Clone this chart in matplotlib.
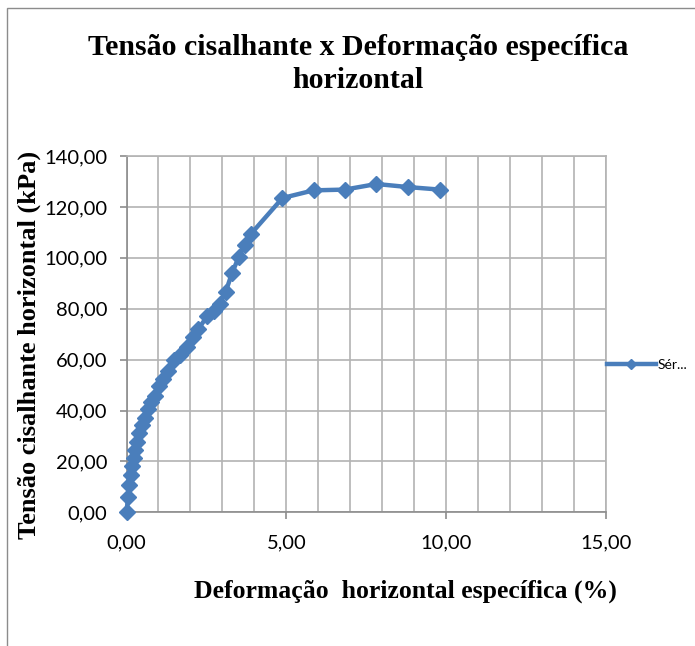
import matplotlib
matplotlib.use("Agg")
import matplotlib.pyplot as plt
from matplotlib.patches import Rectangle
from matplotlib.ticker import MultipleLocator, FuncFormatter

# Data
deformacao = [0.00, 0.05, 0.09, 0.13, 0.17, 0.22, 0.27, 0.33, 0.40, 0.48,
              0.57, 0.66, 0.76, 0.88, 1.02, 1.15, 1.30, 1.50, 1.68, 1.90,
              2.08, 2.25, 2.52, 2.75, 2.92, 3.10, 3.30, 3.52, 3.70, 3.90,
              4.88, 5.85, 6.83, 7.82, 8.80, 9.80]
tensao = [0.0, 6.2, 10.6, 14.8, 18.0, 21.2, 24.4, 27.6, 31.0, 34.3,
          37.2, 40.5, 43.2, 45.8, 49.5, 52.2, 55.5, 60.0, 62.0, 65.0,
          69.0, 72.0, 77.0, 79.0, 82.0, 86.5, 94.0, 100.5, 105.0, 109.5,
          123.5, 126.5, 126.8, 129.0, 127.8, 126.8]
serie_nome = "Sér..."
titulo = "Tensão cisalhante x Deformação específica\nhorizontal"
xlabel = "Deformação  horizontal específica (%)"
ylabel = "Tensão cisalhante horizontal (kPa)"

W, H = 695, 646
fig = plt.figure(figsize=(W / 100, H / 100), dpi=100)

# outer chart border
fig.patches.append(Rectangle((7 / W, 0 - 0.05), 1.1, 1 - 8 / H + 0.05,
                             transform=fig.transFigure, fill=False,
                             edgecolor="#8c8c8c", linewidth=1.0))

ax = fig.add_axes([126.5 / W, 1 - 512.3 / H, (606 - 126.5) / W, (512.3 - 156) / H])
ax.set_xlim(0, 15)
ax.set_ylim(0, 140)

blue = "#4a7ebb"
line, = ax.plot(deformacao, tensao, color=blue, linewidth=3.2, marker="D",
                markersize=8.5, markerfacecolor=blue, markeredgecolor=blue,
                zorder=5, clip_on=False, label=serie_nome)

ax.xaxis.set_major_locator(MultipleLocator(5))
ax.xaxis.set_minor_locator(MultipleLocator(1))
ax.yaxis.set_major_locator(MultipleLocator(20))
fmt = FuncFormatter(lambda v, p: f"{v:.2f}".replace(".", ","))
ax.xaxis.set_major_formatter(fmt)
ax.yaxis.set_major_formatter(fmt)

grid_c = "#b3b3b3"
ax.grid(True, which="major", axis="y", color=grid_c, linewidth=1.2)
ax.grid(True, which="both", axis="x", color=grid_c, linewidth=1.2)
ax.set_axisbelow(True)
for s in ["top", "right"]:
    ax.spines[s].set_color(grid_c)
    ax.spines[s].set_linewidth(1.2)
for s in ["left", "bottom"]:
    ax.spines[s].set_color("#8c8c8c")
    ax.spines[s].set_linewidth(1.2)

ax.tick_params(axis="both", which="major", direction="out", length=5,
               color="#8c8c8c", width=1.2, labelsize=14.5, labelcolor="black")
ax.tick_params(axis="x", which="major", pad=11)
ax.tick_params(axis="y", which="major", pad=9)
ax.tick_params(axis="x", which="minor", length=0)
for lbl in ax.get_xticklabels() + ax.get_yticklabels():
    lbl.set_fontfamily("Lato")

fig.text(358 / W, 1 - 64 / H, titulo, ha="center", va="center",
         fontfamily="Liberation Serif", fontweight="bold", fontsize=21.5,
         linespacing=1.25)
fig.text(405 / W, 1 - 591 / H, xlabel, ha="center", va="center",
         fontfamily="Liberation Serif", fontweight="bold", fontsize=18.5)
fig.text(29 / W, 1 - 345 / H, ylabel, ha="center", va="center", rotation=90,
         fontfamily="Liberation Serif", fontweight="bold", fontsize=19)

leg = fig.legend(handles=[line], loc="center left",
                 bbox_to_anchor=(607 / W, 1 - 365 / H), frameon=False,
                 handlelength=3.5, handletextpad=0.12, borderpad=0,
                 borderaxespad=0,
                 prop={"family": "Lato", "size": 10})
leg.get_lines()[0].set_markersize(5)

fig.savefig("out.png", dpi=100)
